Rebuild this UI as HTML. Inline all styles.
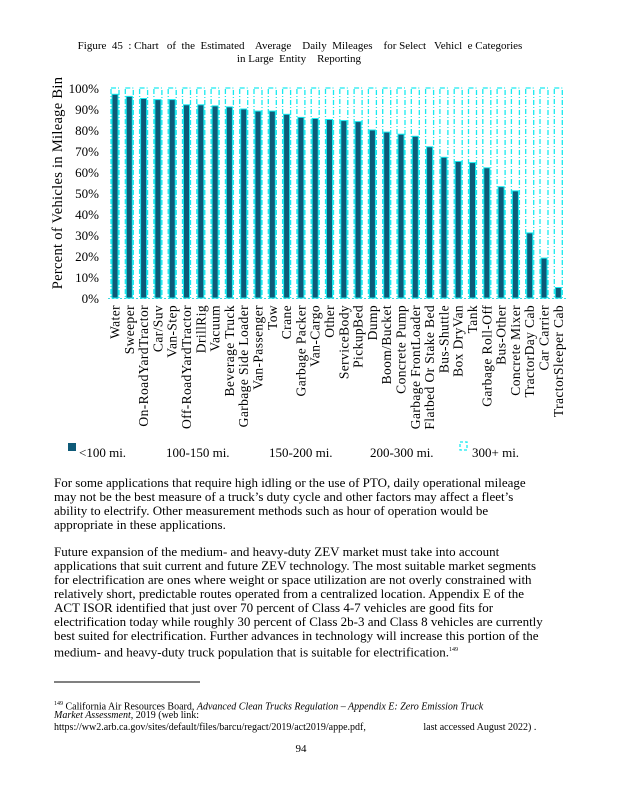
<!DOCTYPE html>
<html><head><meta charset="utf-8"><style>
body{margin:0;width:618px;height:800px;background:#fff;position:relative;font-family:"Liberation Serif",serif;color:#000;overflow:hidden}
.l{position:absolute;white-space:nowrap;font-size:13px;left:54px;line-height:14px}
.f{position:absolute;white-space:nowrap;font-size:10px;left:54px;line-height:12px}
</style></head><body>
<svg width="618" height="800" style="position:absolute;left:0;top:0" font-family="Liberation Serif, serif">
<text x="300" y="49" font-size="11" text-anchor="middle" xml:space="preserve">Figure  45  : Chart   of  the  Estimated    Average    Daily  Mileages    for Select   Vehicl  e Categories</text>
<text x="299" y="62" font-size="11" text-anchor="middle" xml:space="preserve">in Large  Entity    Reporting</text>
<g font-size="13" text-anchor="end">
<text x="99" y="93">100%</text><text x="99" y="114">90%</text><text x="99" y="135">80%</text><text x="99" y="156">70%</text><text x="99" y="177">60%</text><text x="99" y="198">50%</text><text x="99" y="219">40%</text><text x="99" y="240">30%</text><text x="99" y="261">20%</text><text x="99" y="282">10%</text><text x="99" y="303">0%</text>
</g>
<text transform="translate(62,183) rotate(-90)" font-size="14.5" text-anchor="middle" letter-spacing="0.3">Percent of Vehicles in Mileage Bin</text>
<line x1="108" y1="298.5" x2="566" y2="298.5" stroke="#3fd8e0" stroke-dasharray="2,2"/>
<g stroke="#19eaf0" stroke-width="1.3" stroke-dasharray="5,2,1,2" fill="none">
<rect x="111" y="88" width="8" height="210"/><rect x="125.3" y="88" width="8" height="210"/><rect x="139.6" y="88" width="8" height="210"/><rect x="153.9" y="88" width="8" height="210"/><rect x="168.2" y="88" width="8" height="210"/><rect x="182.5" y="88" width="8" height="210"/><rect x="196.8" y="88" width="8" height="210"/><rect x="211.1" y="88" width="8" height="210"/><rect x="225.4" y="88" width="8" height="210"/><rect x="239.7" y="88" width="8" height="210"/><rect x="254" y="88" width="8" height="210"/><rect x="268.3" y="88" width="8" height="210"/><rect x="282.6" y="88" width="8" height="210"/><rect x="296.9" y="88" width="8" height="210"/><rect x="311.2" y="88" width="8" height="210"/><rect x="325.5" y="88" width="8" height="210"/><rect x="339.8" y="88" width="8" height="210"/><rect x="354.1" y="88" width="8" height="210"/><rect x="368.4" y="88" width="8" height="210"/><rect x="382.7" y="88" width="8" height="210"/><rect x="397" y="88" width="8" height="210"/><rect x="411.3" y="88" width="8" height="210"/><rect x="425.6" y="88" width="8" height="210"/><rect x="439.9" y="88" width="8" height="210"/><rect x="454.2" y="88" width="8" height="210"/><rect x="468.5" y="88" width="8" height="210"/><rect x="482.8" y="88" width="8" height="210"/><rect x="497.1" y="88" width="8" height="210"/><rect x="511.4" y="88" width="8" height="210"/><rect x="525.7" y="88" width="8" height="210"/><rect x="540" y="88" width="8" height="210"/><rect x="554.3" y="88" width="8" height="210"/>
</g>
<g fill="#0e5a78" stroke="#17e8ee" stroke-width="1">
<rect x="112" y="94.3" width="6" height="203.7"/><rect x="126.3" y="96.4" width="6" height="201.6"/><rect x="140.6" y="98.5" width="6" height="199.5"/><rect x="154.9" y="99.6" width="6" height="198.4"/><rect x="169.2" y="99.6" width="6" height="198.4"/><rect x="183.5" y="104.8" width="6" height="193.2"/><rect x="197.8" y="104.8" width="6" height="193.2"/><rect x="212.1" y="105.9" width="6" height="192.1"/><rect x="226.4" y="106.9" width="6" height="191.1"/><rect x="240.7" y="109" width="6" height="189"/><rect x="255" y="111.1" width="6" height="186.9"/><rect x="269.3" y="111.1" width="6" height="186.9"/><rect x="283.6" y="114.3" width="6" height="183.7"/><rect x="297.9" y="117.4" width="6" height="180.6"/><rect x="312.2" y="118.5" width="6" height="179.5"/><rect x="326.5" y="119.5" width="6" height="178.5"/><rect x="340.8" y="120.6" width="6" height="177.4"/><rect x="355.1" y="121.6" width="6" height="176.4"/><rect x="369.4" y="130" width="6" height="168"/><rect x="383.7" y="132.1" width="6" height="165.9"/><rect x="398" y="134.2" width="6" height="163.8"/><rect x="412.3" y="136.3" width="6" height="161.7"/><rect x="426.6" y="146.8" width="6" height="151.2"/><rect x="440.9" y="157.3" width="6" height="140.7"/><rect x="455.2" y="161.5" width="6" height="136.5"/><rect x="469.5" y="162.6" width="6" height="135.4"/><rect x="483.8" y="167.8" width="6" height="130.2"/><rect x="498.1" y="186.7" width="6" height="111.3"/><rect x="512.4" y="190.9" width="6" height="107.1"/><rect x="526.7" y="232.9" width="6" height="65.1"/><rect x="541" y="258.1" width="6" height="39.9"/><rect x="555.3" y="287.5" width="6" height="10.5"/>
</g>
<g font-size="13.5" text-anchor="end" letter-spacing="0.4">
<text transform="translate(119.5,305) rotate(-90)">Water</text>
<text transform="translate(133.8,305) rotate(-90)">Sweeper</text>
<text transform="translate(148.1,305) rotate(-90)">On-RoadYardTractor</text>
<text transform="translate(162.4,305) rotate(-90)">Car/Suv</text>
<text transform="translate(176.7,305) rotate(-90)">Van-Step</text>
<text transform="translate(191,305) rotate(-90)">Off-RoadYardTractor</text>
<text transform="translate(205.3,305) rotate(-90)">DrillRig</text>
<text transform="translate(219.6,305) rotate(-90)">Vacuum</text>
<text transform="translate(233.9,305) rotate(-90)">Beverage Truck</text>
<text transform="translate(248.2,305) rotate(-90)">Garbage Side Loader</text>
<text transform="translate(262.5,305) rotate(-90)">Van-Passenger</text>
<text transform="translate(276.8,305) rotate(-90)">Tow</text>
<text transform="translate(291.1,305) rotate(-90)">Crane</text>
<text transform="translate(305.4,305) rotate(-90)">Garbage Packer</text>
<text transform="translate(319.7,305) rotate(-90)">Van-Cargo</text>
<text transform="translate(334,305) rotate(-90)">Other</text>
<text transform="translate(348.3,305) rotate(-90)">ServiceBody</text>
<text transform="translate(362.6,305) rotate(-90)">PickupBed</text>
<text transform="translate(376.9,305) rotate(-90)">Dump</text>
<text transform="translate(391.2,305) rotate(-90)">Boom/Bucket</text>
<text transform="translate(405.5,305) rotate(-90)">Concrete Pump</text>
<text transform="translate(419.8,305) rotate(-90)">Garbage FrontLoader</text>
<text transform="translate(434.1,305) rotate(-90)">Flatbed Or Stake Bed</text>
<text transform="translate(448.4,305) rotate(-90)">Bus-Shuttle</text>
<text transform="translate(462.7,305) rotate(-90)">Box DryVan</text>
<text transform="translate(477,305) rotate(-90)">Tank</text>
<text transform="translate(491.3,305) rotate(-90)">Garbage Roll-Off</text>
<text transform="translate(505.6,305) rotate(-90)">Bus-Other</text>
<text transform="translate(519.9,305) rotate(-90)">Concrete Mixer</text>
<text transform="translate(534.2,305) rotate(-90)">TractorDay Cab</text>
<text transform="translate(548.5,305) rotate(-90)">Car Carrier</text>
<text transform="translate(562.8,305) rotate(-90)">TractorSleeper Cab</text>
</g>
<rect x="68" y="443" width="8" height="8" fill="#0e5a78"/>
<rect x="460" y="442" width="7" height="8" fill="none" stroke="#19eaf0" stroke-width="1.3" stroke-dasharray="3,2"/>
<g font-size="13"><text x="79" y="457">&lt;100 mi.</text><text x="166" y="457">100-150 mi.</text><text x="269" y="457">150-200 mi.</text><text x="370" y="457">200-300 mi.</text><text x="472" y="457">300+ mi.</text></g>
<line x1="54" y1="682" x2="200" y2="682" stroke="#000" stroke-width="1"/>
<text x="301" y="752" font-size="11" text-anchor="middle">94</text>
</svg>
<div class="l" style="top:476px">For some  applications that require  high  idling or the use of PTO, daily operational mileage</div>
<div class="l" style="top:490px">may not be the best measure  of a truck’s duty cycle and other  factors may affect a fleet’s</div>
<div class="l" style="top:504px">ability to electrify. Other  measurement methods such as hour of operation would be</div>
<div class="l" style="top:518px">appropriate  in these applications.</div>
<div class="l" style="top:545px">Future expansion of the medium-  and heavy-duty ZEV market must take into account</div>
<div class="l" style="top:559px">applications that suit current and future ZEV technology. The most suitable market segments</div>
<div class="l" style="top:573px">for electrification are ones where weight or space utilization are not overly constrained with</div>
<div class="l" style="top:587px">relatively short, predictable routes operated  from a centralized location. Appendix E of the</div>
<div class="l" style="top:601px">ACT ISOR identified  that just over 70 percent of Class 4-7 vehicles are good fits for</div>
<div class="l" style="top:615px">electrification today while roughly 30 percent  of Class 2b-3 and Class 8 vehicles are currently</div>
<div class="l" style="top:629px">best suited for electrification. Further advances in technology will increase this portion of the</div>
<div class="l" style="top:643px">medium- and heavy-duty truck population that is suitable for electrification.<sup style="font-size:6px">149</sup></div>
<div class="f" style="top:698px"><sup style="font-size:6px">149</sup> California  Air Resources   Board,  <i>Advanced  Clean  Trucks  Regulation   – Appendix  E: Zero  Emission  Truck</i></div>
<div class="f" style="top:710px"><i>Market Assessment,</i>    2019  (web  link:</div>
<div class="f" style="top:722px">https://ww2.arb.ca.gov/sites/default/files/barcu/regact/2019/act2019/appe.pdf, &nbsp;&nbsp;&nbsp;&nbsp;&nbsp;&nbsp;&nbsp;&nbsp;&nbsp;&nbsp;&nbsp;&nbsp;&nbsp;&nbsp;&nbsp;&nbsp;&nbsp;&nbsp;&nbsp;&nbsp;&nbsp;&nbsp;last  accessed   August 2022)  .</div>
</body></html>
